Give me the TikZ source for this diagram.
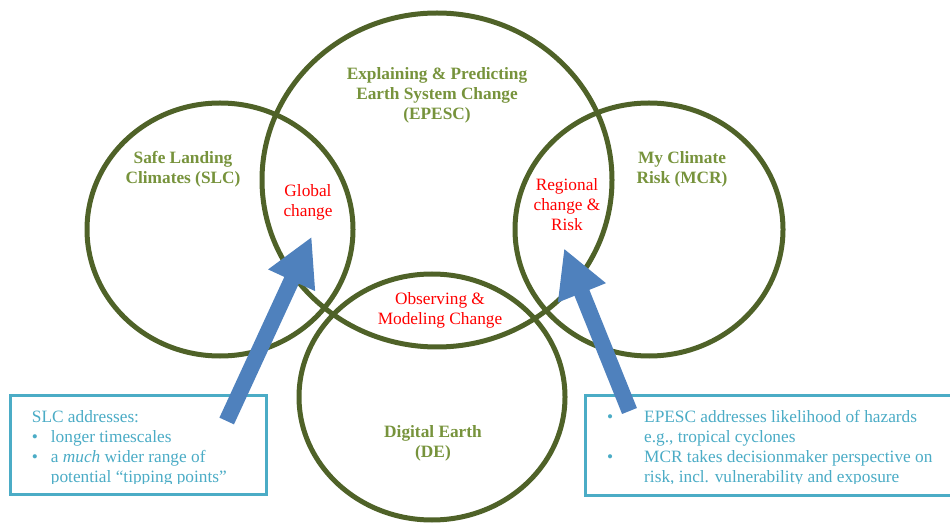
\documentclass[tikz,border=0pt]{standalone}
\usepackage{fontspec}
\setmainfont{Liberation Serif}
\usetikzlibrary{shapes.geometric,arrows.meta}
\definecolor{ring}{HTML}{4F6228}
\definecolor{lbl}{HTML}{77933C}
\definecolor{boxc}{HTML}{4BACC6}
\definecolor{arr}{HTML}{4F81BD}
\begin{document}
\begin{tikzpicture}[x=1pt,y=-1pt,
  ringnode/.style={ellipse,draw=ring,line width=5pt,inner sep=0pt,outer sep=0pt},
  mainlbl/.style={font=\fontsize{17.3}{20}\selectfont\bfseries,text=lbl,align=center,inner sep=0pt,anchor=base},
  redlbl/.style={font=\fontsize{17.3}{20}\selectfont,text=red,align=center,inner sep=0pt,anchor=base},
  boxtext/.style={font=\fontsize{17.3}{20}\selectfont,text=boxc,align=left,inner sep=0pt,anchor=base west},
  infobox/.style={draw=boxc,line width=3pt,fill=white},
  bigarrow/.style={draw=arr,line width=16pt,-{Triangle[width=48pt,length=48pt]}}
]
\useasboundingbox (0,0) rectangle (950,526);

% circles
\node[ringnode,minimum width=266pt,minimum height=253pt] (slc) at (220,229.5) {};
\node[ringnode,minimum width=350pt,minimum height=334pt] (epesc) at (437,180) {};
\node[ringnode,minimum width=268pt,minimum height=253pt] (mcr) at (649,229.5) {};
\node[ringnode,minimum width=266pt,minimum height=246pt] (de) at (432,397) {};

% main labels (base anchor = last line baseline)
\node[mainlbl] (epescl) at (437,120) {Explaining \& Predicting\\Earth System Change\\(EPESC)};
\node[mainlbl] (slcl) at (183,184) {Safe Landing\\Climates (SLC)};
\node[mainlbl] (mcrl) at (682,183.3) {My Climate\\Risk (MCR)};
\node[mainlbl] (del) at (433,457) {Digital Earth\\(DE)};

% overlap labels
\node[redlbl] (glob) at (308,216.7) {Global\\change};
\node[redlbl] (regi) at (567,230.7) {Regional\\change \&\\Risk};
\node[redlbl] (obsv) at (440,324.3) {Observing \&\\Modeling Change};

% boxes
\path[infobox] (10,395) rectangle (266,494);
\path[infobox] (585,395) rectangle (960,495);
\begin{scope}
\clip (10,395) rectangle (266,483);
\node[boxtext] (slcbox) at (31.7,482.7) {SLC addresses:\\\makebox[19pt][l]{•}longer timescales\\\makebox[19pt][l]{•}a \textit{much} wider range of\\\hspace*{19pt}potential “tipping points”};
\end{scope}
\begin{scope}
\clip (585,395) rectangle (950,483);
\node[boxtext] (mcrbox) at (607,482.7) {\makebox[37pt][l]{•}EPESC addresses likelihood of hazards\\\hspace*{37pt}e.g., tropical cyclones\\\makebox[37pt][l]{•}MCR takes decisionmaker perspective on\\\hspace*{37pt}risk, incl. vulnerability and exposure};
\end{scope}

% arrows
\coordinate (tailL) at (226.7,421);
\coordinate (tipL) at (311.7,236.7);
\coordinate (tailR) at (629.5,411);
\coordinate (tipR) at (564,248.3);
\draw[bigarrow] (tailL) -- (tipL);
\draw[bigarrow] (tailR) -- (tipR);
\end{tikzpicture}
\end{document}
